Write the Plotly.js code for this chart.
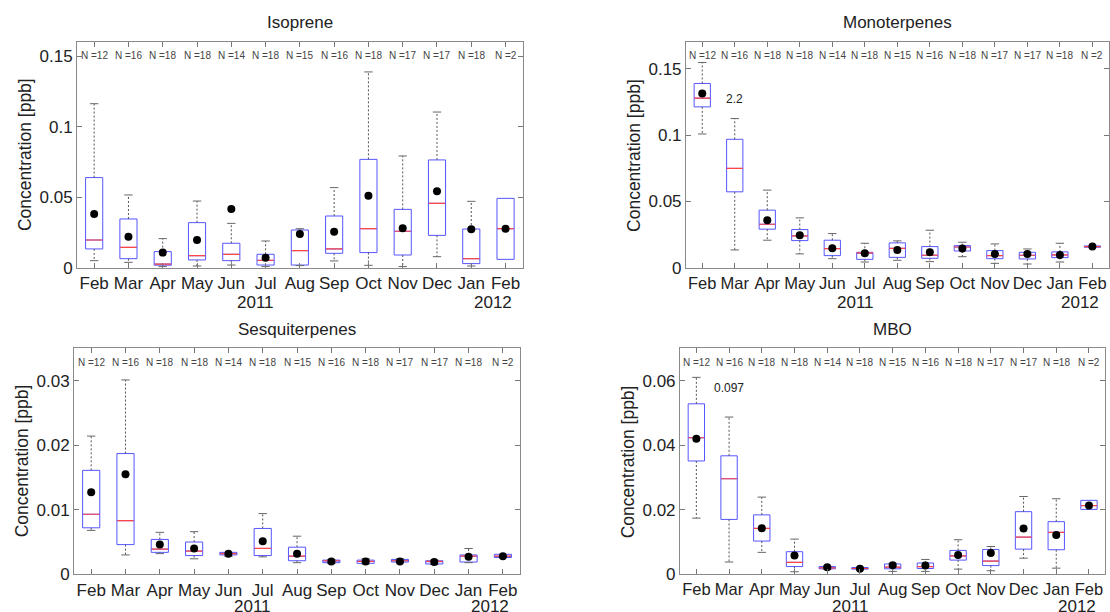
<!DOCTYPE html>
<html>
<head>
<meta charset="utf-8">
<script src="https://cdn.plot.ly/plotly-3.0.1.min.js"></script>
<style>
  html, body { margin: 0; padding: 0; background: #fff; }
  #chart { width: 1110px; height: 612px; }
</style>
</head>
<body>
<div id="chart"></div>
<script>
// Monthly box statistics of BVOC concentrations (ppb), Feb 2011 - Feb 2012
const months = ['Feb', 'Mar', 'Apr', 'May', 'Jun', 'Jul', 'Aug', 'Sep', 'Oct', 'Nov', 'Dec', 'Jan', 'Feb'];
const nCounts = [12, 16, 18, 18, 14, 18, 15, 16, 18, 17, 17, 18, 2];
const years = ['2011', '2012'];

// Isoprene
const isoLower  = [0.0052, 0.0040, 0.0010, 0.0014, 0.0021, 0.0010, 0.0017, 0.0050, 0.0019, 0.0010, 0.0080, 0.0014, 0.0061];
const isoQ1     = [0.0135, 0.0066, 0.0020, 0.0057, 0.0052, 0.0021, 0.0021, 0.0104, 0.0109, 0.0092, 0.0231, 0.0031, 0.0061];
const isoMedian = [0.0198, 0.0146, 0.0028, 0.0087, 0.0097, 0.0054, 0.0123, 0.0135, 0.0278, 0.0260, 0.0458, 0.0066, 0.0278];
const isoQ3     = [0.0640, 0.0347, 0.0116, 0.0321, 0.0175, 0.0097, 0.0269, 0.0368, 0.0769, 0.0415, 0.0765, 0.0276, 0.0493];
const isoUpper  = [0.1163, 0.0517, 0.0208, 0.0474, 0.0316, 0.0191, 0.0278, 0.0569, 0.1388, 0.0793, 0.1104, 0.0472, 0.0493];
const isoMean   = [0.0382, 0.0222, 0.0109, 0.0198, 0.0418, 0.0073, 0.0241, 0.0257, 0.0512, 0.0281, 0.0543, 0.0274, 0.0278];

// Monoterpenes
const monoLower  = [0.1008, 0.0136, 0.0209, 0.0106, 0.0070, 0.0045, 0.0058, 0.0048, 0.0085, 0.0035, 0.0030, 0.0045, 0.0156];
const monoQ1     = [0.1212, 0.0573, 0.0292, 0.0206, 0.0093, 0.0065, 0.0080, 0.0073, 0.0128, 0.0070, 0.0068, 0.0078, 0.0156];
const monoMedian = [0.1277, 0.0749, 0.0329, 0.0241, 0.0146, 0.0113, 0.0148, 0.0096, 0.0158, 0.0093, 0.0096, 0.0098, 0.0161];
const monoQ3     = [0.1388, 0.0968, 0.0435, 0.0289, 0.0209, 0.0118, 0.0189, 0.0161, 0.0168, 0.0131, 0.0118, 0.0121, 0.0166];
const monoUpper  = [0.1546, 0.1124, 0.0586, 0.0377, 0.0259, 0.0186, 0.0204, 0.0284, 0.0194, 0.0181, 0.0143, 0.0186, 0.0166];
const monoMean   = [0.1312, 2.2,    0.0360, 0.0246, 0.0148, 0.0111, 0.0136, 0.0118, 0.0146, 0.0106, 0.0106, 0.0098, 0.0161];

// Sesquiterpenes
const sesqLower  = [0.0068, 0.0030, 0.0032, 0.0024, 0.0028, 0.0027, 0.0018, 0.0017, 0.0016, 0.0018, 0.0015, 0.0018, 0.0026];
const sesqQ1     = [0.0072, 0.0046, 0.0034, 0.0029, 0.0030, 0.0029, 0.0021, 0.0018, 0.0017, 0.0019, 0.0016, 0.0019, 0.0026];
const sesqMedian = [0.0093, 0.0083, 0.0039, 0.0036, 0.0032, 0.0040, 0.0028, 0.0021, 0.0020, 0.0021, 0.0020, 0.0028, 0.0028];
const sesqQ3     = [0.0161, 0.0187, 0.0054, 0.0050, 0.0034, 0.0071, 0.0042, 0.0022, 0.0022, 0.0023, 0.0021, 0.0030, 0.0031];
const sesqUpper  = [0.0214, 0.0301, 0.0065, 0.0066, 0.0034, 0.0094, 0.0059, 0.0023, 0.0024, 0.0024, 0.0022, 0.0040, 0.0031];
const sesqMean   = [0.0127, 0.0155, 0.0046, 0.0040, 0.0032, 0.0051, 0.0032, 0.0020, 0.0020, 0.0020, 0.0019, 0.0027, 0.0028];

// MBO
const mboLower  = [0.0174, 0.0038, 0.0068, 0.0008, 0.0015, 0.0015, 0.0009, 0.0009, 0.0016, 0.0011, 0.0050, 0.0019, 0.0201];
const mboQ1     = [0.0351, 0.0170, 0.0103, 0.0024, 0.0017, 0.0016, 0.0017, 0.0018, 0.0044, 0.0027, 0.0078, 0.0076, 0.0201];
const mboMedian = [0.0423, 0.0296, 0.0142, 0.0037, 0.0020, 0.0018, 0.0022, 0.0024, 0.0057, 0.0041, 0.0115, 0.0130, 0.0213];
const mboQ3     = [0.0528, 0.0367, 0.0184, 0.0070, 0.0024, 0.0021, 0.0032, 0.0035, 0.0074, 0.0077, 0.0194, 0.0163, 0.0229];
const mboUpper  = [0.0610, 0.0487, 0.0239, 0.0109, 0.0025, 0.0022, 0.0034, 0.0046, 0.0107, 0.0086, 0.0241, 0.0234, 0.0229];
const mboMean   = [0.0420, 0.097,  0.0143, 0.0058, 0.0022, 0.0017, 0.0028, 0.0027, 0.0060, 0.0066, 0.0142, 0.0122, 0.0213];

const FONT = 'Arial, "Liberation Sans", Helvetica, sans-serif';
const positions = months.map((_, i) => i + 1);

const panels = [
  { title: 'Isoprene', lower: isoLower, q1: isoQ1, med: isoMedian, q3: isoQ3, upper: isoUpper, mean: isoMean,
    xdom: [0.0694, 0.4709], ydom: [0.5621, 0.9314], yrange: [0, 0.16], dtick: 0.05, yearShift: -35, monthSize: 17 },
  { title: 'Monoterpenes', lower: monoLower, q1: monoQ1, med: monoMedian, q3: monoQ3, upper: monoUpper, mean: monoMean,
    xdom: [0.6180, 0.9988], ydom: [0.5621, 0.9314], yrange: [0, 0.17], dtick: 0.05, yearShift: -35, monthSize: 16.5, offScaleShift: 11 },
  { title: 'Sesquiterpenes', lower: sesqLower, q1: sesqQ1, med: sesqMedian, q3: sesqQ3, upper: sesqUpper, mean: sesqMean,
    xdom: [0.0667, 0.4685], ydom: [0.0616, 0.4309], yrange: [0, 0.035], dtick: 0.01, yearShift: -32, monthSize: 17 },
  { title: 'MBO', lower: mboLower, q1: mboQ1, med: mboMedian, q3: mboQ3, upper: mboUpper, mean: mboMean,
    xdom: [0.6126, 0.9958], ydom: [0.0616, 0.4309], yrange: [0, 0.07], dtick: 0.02, yearShift: -32, monthSize: 16.5, offScaleShift: 20 }
];

const traces = [];
const annotations = [];
const layout = {
  width: 1110, height: 612,
  margin: { l: 0, r: 0, t: 0, b: 0 },
  paper_bgcolor: '#ffffff', plot_bgcolor: '#ffffff',
  showlegend: false,
  font: { family: FONT, color: '#222' }
};

panels.forEach((p, k) => {
  const sfx = k === 0 ? '' : String(k + 1);
  const xa = 'x' + sfx, ya = 'y' + sfx;

  // Boxes (interquartile range)
  traces.push({
    type: 'box', xaxis: xa, yaxis: ya,
    x: positions, q1: p.q1, median: p.med, q3: p.q3,
    lowerfence: p.q1, upperfence: p.q3,
    width: 0.5, boxpoints: false,
    fillcolor: 'rgba(0,0,0,0)',
    line: { color: 'rgb(85,85,255)', width: 1 },
    whiskerwidth: 0, hoverinfo: 'skip'
  });

  // Dashed whiskers
  const wx = [], wy = [];
  positions.forEach((pos, i) => {
    if (p.upper[i] > p.q3[i]) { wx.push(pos, pos, null); wy.push(p.q3[i], p.upper[i], null); }
    if (p.lower[i] < p.q1[i]) { wx.push(pos, pos, null); wy.push(p.q1[i], p.lower[i], null); }
  });
  traces.push({
    type: 'scatter', mode: 'lines', xaxis: xa, yaxis: ya,
    x: wx, y: wy, connectgaps: false,
    line: { color: '#555', width: 1, dash: '2px,2px' }, hoverinfo: 'skip'
  });

  // Whisker caps
  const cx = [], cy = [];
  positions.forEach((pos, i) => {
    if (p.upper[i] > p.q3[i]) { cx.push(pos); cy.push(p.upper[i]); }
    if (p.lower[i] < p.q1[i]) { cx.push(pos); cy.push(p.lower[i]); }
  });
  traces.push({
    type: 'scatter', mode: 'markers', xaxis: xa, yaxis: ya,
    x: cx, y: cy,
    marker: { symbol: 'line-ew', size: 6, line: { color: '#666', width: 1 } },
    hoverinfo: 'skip'
  });

  // Red median lines
  traces.push({
    type: 'scatter', mode: 'markers', xaxis: xa, yaxis: ya,
    x: positions, y: p.med,
    marker: { symbol: 'line-ew', size: 11.6, line: { color: 'rgb(255,70,70)', width: 1.2 } },
    hoverinfo: 'skip'
  });

  // Means
  traces.push({
    type: 'scatter', mode: 'markers', xaxis: xa, yaxis: ya,
    x: positions, y: p.mean, cliponaxis: true,
    marker: { color: '#000', size: 8 },
    hoverinfo: 'skip'
  });

  const axisCommon = {
    showline: true, linecolor: '#8a8a8a', linewidth: 1, mirror: 'ticks',
    ticks: 'inside', ticklen: 5, tickcolor: '#777', tickwidth: 1,
    showgrid: false, zeroline: false, fixedrange: true
  };
  layout['xaxis' + sfx] = Object.assign({}, axisCommon, {
    domain: p.xdom, anchor: ya, range: [0.5, 13.5],
    tickvals: positions, ticktext: months, tickangle: 0,
    tickfont: { family: FONT, size: p.monthSize, color: '#222' }
  });
  layout['yaxis' + sfx] = Object.assign({}, axisCommon, {
    domain: p.ydom, anchor: xa, range: p.yrange, dtick: p.dtick, tick0: 0,
    tickfont: { family: FONT, size: 17, color: '#222' }
  });

  // Panel title
  annotations.push({
    xref: xa + ' domain', yref: ya + ' domain', x: 0.5, y: 1, yshift: 19,
    xanchor: 'center', yanchor: 'middle', showarrow: false,
    text: p.title, font: { family: FONT, size: 17, color: '#222' }
  });
  // Y-axis title
  annotations.push({
    xref: xa + ' domain', yref: ya + ' domain', x: 0, y: 0.5, xshift: -52,
    xanchor: 'center', yanchor: 'middle', showarrow: false, textangle: -90,
    text: 'Concentration [ppb]', font: { family: FONT, size: 17.5, color: '#222' }
  });
  // Sample counts
  positions.forEach((pos, i) => {
    annotations.push({
      xref: xa, yref: ya + ' domain', x: pos, y: 1, yshift: -14,
      xanchor: 'center', yanchor: 'middle', showarrow: false,
      text: 'N =' + nCounts[i], font: { family: FONT, size: 10, color: '#444' }
    });
  });
  // Year labels under the month ticks
  [[5.7, years[0]], [12.62, years[1]]].forEach(([pos, yr]) => {
    annotations.push({
      xref: xa, yref: ya + ' domain', x: pos, y: 0, yshift: p.yearShift,
      xanchor: 'center', yanchor: 'middle', showarrow: false,
      text: yr, font: { family: FONT, size: 17, color: '#222' }
    });
  });
  // Off-scale means written above their whiskers
  p.mean.forEach((m, i) => {
    if (m > p.yrange[1]) {
      annotations.push({
        xref: xa, yref: ya, x: positions[i], y: p.upper[i], yshift: p.offScaleShift,
        xanchor: 'center', yanchor: 'bottom', showarrow: false,
        text: String(m), font: { family: FONT, size: 12, color: '#222' }
      });
    }
  });
});

layout.annotations = annotations;
Plotly.newPlot('chart', traces, layout, { staticPlot: true, displayModeBar: false });
</script>
</body>
</html>
